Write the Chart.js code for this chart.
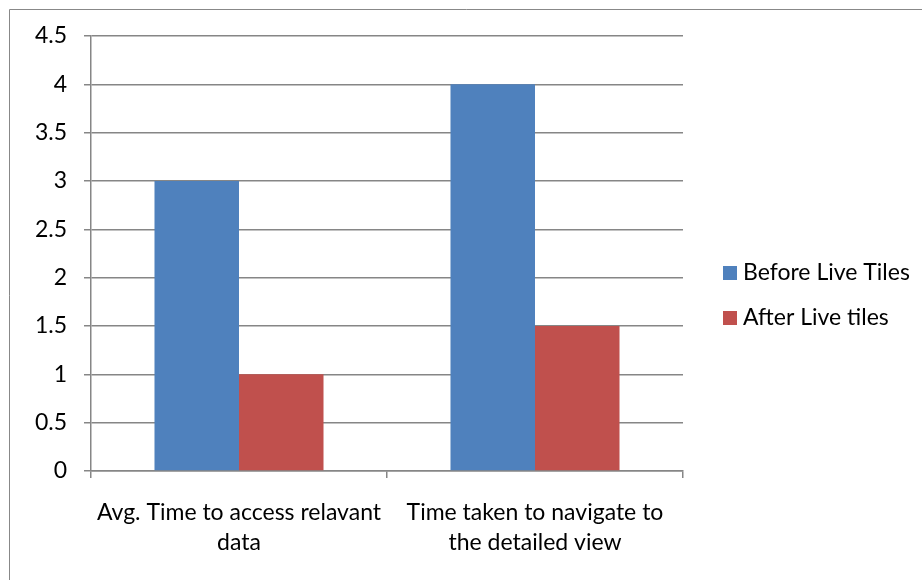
<!DOCTYPE html>
<html>
<head>
<meta charset="utf-8">
<script src="https://cdn.jsdelivr.net/npm/chart.js@4/dist/chart.umd.min.js"></script>
<style>
  html, body { margin: 0; padding: 0; background: #fff; }
  #wrap { width: 922px; height: 580px; position: relative; }
</style>
</head>
<body>
<div id="wrap"><canvas id="c" width="922" height="580"></canvas></div>
<script>
// Categories (wrapped onto two lines each) and series values
const categories = [
  ["Avg. Time to access relavant", "data"],
  ["Time taken to navigate to", "the detailed view"]
];
const beforeLiveTiles = [3, 4];
const afterLiveTiles = [1, 1.5];
const seriesNames = ["Before Live Tiles", "After Live tiles"];
const yTicks = { min: 0, max: 4.5, step: 0.5 };

const FONT = "Lato, Carlito, Calibri, sans-serif";
const FONT_SIZE = 23;
const GRID = "#868686";

// White background plus the outer frame line
const frame = {
  id: "frame",
  beforeDraw(chart) {
    const ctx = chart.ctx;
    ctx.save();
    ctx.fillStyle = "#fff";
    ctx.fillRect(0, 0, chart.width, chart.height);
    ctx.strokeStyle = "#888888";
    ctx.lineWidth = 1;
    ctx.beginPath();
    ctx.moveTo(9.5, chart.height + 5);
    ctx.lineTo(9.5, 9.5);
    ctx.lineTo(chart.width + 5, 9.5);
    ctx.stroke();
    ctx.restore();
  }
};

// Legend at the right: square swatch + series name
const sideLegend = {
  id: "sideLegend",
  afterDraw(chart) {
    const ctx = chart.ctx;
    ctx.save();
    ctx.font = FONT_SIZE + "px " + FONT;
    ctx.textBaseline = "middle";
    chart.data.datasets.forEach((ds, i) => {
      const cy = 273 + i * 45;
      ctx.fillStyle = ds.backgroundColor;
      ctx.fillRect(723, cy - 7, 14, 14);
      ctx.fillStyle = "#000";
      ctx.fillText(ds.label, 743, cy);
    });
    ctx.restore();
  }
};

new Chart(document.getElementById("c"), {
  type: "bar",
  data: {
    labels: categories,
    datasets: [
      { label: seriesNames[0], data: beforeLiveTiles, backgroundColor: "#4F81BD" },
      { label: seriesNames[1], data: afterLiveTiles, backgroundColor: "#C0504D" }
    ]
  },
  options: {
    responsive: false,
    animation: false,
    events: [],
    layout: { padding: { left: 0, top: 36, right: 239, bottom: 0 } },
    datasets: { bar: { categoryPercentage: 0.571, barPercentage: 1.0 } },
    plugins: { legend: { display: false }, tooltip: { enabled: false } },
    scales: {
      x: {
        afterFit(s) { s.height = 109; },
        grid: { offset: true, drawOnChartArea: false, drawTicks: true, tickLength: 7, color: GRID, lineWidth: 1.5 },
        border: { color: GRID, width: 1.5 },
        ticks: { color: "#000", font: { family: FONT, size: FONT_SIZE, lineHeight: 1.3 }, padding: 20, maxRotation: 0, autoSkip: false }
      },
      y: {
        min: yTicks.min,
        max: yTicks.max,
        afterFit(s) { s.width = 91; },
        grid: { color: GRID, lineWidth: 1.5, tickLength: 7 },
        border: { color: GRID, width: 1.5 },
        ticks: {
          stepSize: yTicks.step, color: "#000", font: { family: FONT, size: FONT_SIZE }, padding: 17,
          callback: (v) => String(v)
        }
      }
    }
  },
  plugins: [frame, sideLegend]
});
</script>
</body>
</html>
